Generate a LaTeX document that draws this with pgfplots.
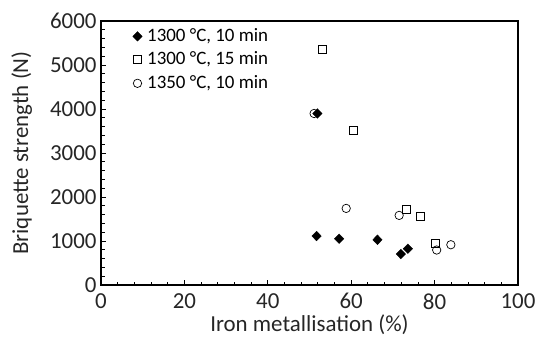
\documentclass[border=0pt]{standalone}
\usepackage{pgfplots}
\pgfplotsset{compat=1.18}
\usepackage{fontspec}
\setmainfont{Carlito}
\begin{document}
\begin{tikzpicture}
\useasboundingbox (0,0) rectangle (537bp,341bp);
\begin{axis}[
  at={(101bp,56bp)}, anchor=south west,
  scale only axis, width=417bp, height=264bp,
  xmin=0, xmax=100, ymin=0, ymax=6000,
  xtick={0,20,...,100}, ytick={0,1000,...,6000},
  minor x tick num=4, minor y tick num=4,
  tick align=inside, xtick pos=left, ytick pos=left,
  major tick length=5bp, minor tick length=3.5bp,
  every tick/.style={black, line width=0.8pt},
  axis line style={line width=1.1pt},
  /pgf/number format/assume math mode=true,
  /pgf/number format/1000 sep={},
  tick label style={font=\fontsize{23}{26}\selectfont, color={black!85}},
  xticklabel style={yshift=-5bp},
  yticklabel style={xshift=-1bp},
  label style={font=\fontsize{23}{26}\selectfont, color={black!85}},
  xlabel={Iron metallisation (\%)},
  ylabel={Briquette strength (N)},
  xlabel style={yshift=1bp},
  ylabel shift=11bp,
  legend style={draw=none, fill=none, at={(0.065,0.99)}, anchor=north west,
    font=\fontsize{19}{22}\selectfont, row sep=2.5bp,
    nodes={inner sep=1.5bp, text height=14bp, text depth=4bp}},
  legend cell align=left,
  legend image code/.code={\path (0bp,0bp) (14bp,0bp); \draw[mark repeat=2,mark phase=2,#1] plot coordinates {(0bp,0bp)(6bp,0bp)(12bp,0bp)};},
]
\addplot[only marks, mark=diamond*, mark size=4.8bp, black, fill=black, mark options={xscale=1.3}] coordinates {
 (51.9,3898) (51.7,1112) (57.1,1051) (66.3,1028) (71.9,704) (73.6,824)
};
\addlegendentry{1300 °C, 10 min}
\addplot[only marks, mark=square, mark size=4bp, black, mark options={line width=0.7pt, fill=white}] coordinates {
 (53.2,5351) (60.4,3519) (73.3,1725) (76.7,1566) (80.2,938)
};
\addlegendentry{1300 °C, 15 min}
\addplot[only marks, mark=o, mark size=4.2bp, black, mark options={line width=0.7pt}] coordinates {
 (51.1,3898) (58.8,1741) (71.5,1582) (80.5,795) (83.9,915)
};
\addlegendentry{1350 °C, 10 min}
\end{axis}
\end{tikzpicture}
\end{document}
